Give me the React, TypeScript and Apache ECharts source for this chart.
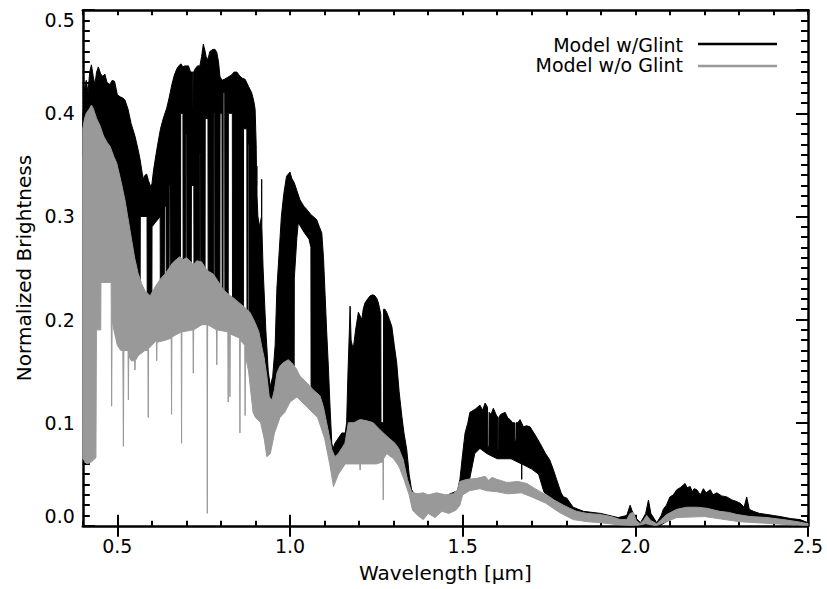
import React, { useEffect, useRef } from "react";
import * as echarts from "echarts";

// ---- Data ----
// "Model w/Glint": upper and lower edges of the dense spectrum trace
const glintUpper: [number, number][] = [
  [0.400,0.395],[0.405,0.425],[0.410,0.432],[0.415,0.420],[0.420,0.440],[0.425,0.447],[0.430,0.436],[0.435,0.428],
  [0.440,0.440],[0.445,0.445],[0.452,0.438],[0.458,0.436],[0.464,0.438],[0.470,0.430],[0.478,0.428],[0.485,0.432],
  [0.492,0.431],[0.500,0.418],[0.508,0.416],[0.515,0.415],[0.522,0.413],[0.531,0.404],[0.540,0.390],[0.551,0.378],
  [0.560,0.365],[0.566,0.355],[0.572,0.342],[0.576,0.336],[0.580,0.340],[0.585,0.341],[0.590,0.335],[0.595,0.330],
  [0.600,0.331],[0.605,0.345],[0.612,0.360],[0.618,0.372],[0.625,0.385],[0.633,0.395],[0.643,0.405],[0.650,0.415],
  [0.658,0.428],[0.665,0.437],[0.672,0.443],[0.678,0.446],[0.684,0.448],[0.690,0.445],[0.695,0.446],[0.700,0.446],
  [0.706,0.446],[0.712,0.440],[0.7185,0.440],[0.719,0.405],[0.7205,0.405],[0.721,0.440],[0.725,0.443],[0.732,0.446],
  [0.739,0.446],[0.744,0.455],[0.749,0.467],[0.753,0.462],[0.757,0.455],[0.762,0.452],[0.768,0.460],[0.777,0.462],
  [0.783,0.462],[0.788,0.459],[0.793,0.450],[0.797,0.436],[0.803,0.432],[0.810,0.433],[0.820,0.435],[0.830,0.437],
  [0.838,0.440],[0.846,0.440],[0.855,0.436],[0.862,0.434],[0.870,0.433],[0.880,0.426],[0.889,0.420],[0.895,0.412],
  [0.899,0.404],[0.902,0.370],[0.9035,0.330],[0.904,0.349],[0.9045,0.320],[0.907,0.300],[0.912,0.290],[0.9175,0.300],
  [0.918,0.336],[0.9185,0.290],[0.922,0.250],[0.930,0.190],[0.937,0.150],[0.943,0.135],[0.950,0.145],[0.957,0.175],
  [0.962,0.230],[0.968,0.262],[0.975,0.300],[0.982,0.322],[0.990,0.339],[1.000,0.343],[1.005,0.337],[1.012,0.333],
  [1.020,0.325],[1.029,0.316],[1.040,0.310],[1.048,0.307],[1.060,0.302],[1.077,0.297],[1.085,0.290],[1.092,0.284],
  [1.097,0.260],[1.101,0.229],[1.106,0.190],[1.111,0.155],[1.116,0.115],[1.121,0.080],[1.125,0.075],[1.130,0.080],
  [1.140,0.085],[1.150,0.090],[1.160,0.090],[1.164,0.100],[1.168,0.150],[1.172,0.190],[1.174,0.213],[1.177,0.180],
  [1.183,0.171],[1.190,0.190],[1.198,0.207],[1.208,0.200],[1.212,0.210],[1.217,0.216],[1.225,0.220],[1.232,0.223],
  [1.240,0.224],[1.246,0.223],[1.252,0.220],[1.256,0.216],[1.263,0.205],[1.2635,0.100],[1.2705,0.100],[1.271,0.210],
  [1.275,0.210],[1.280,0.207],[1.288,0.200],[1.295,0.193],[1.302,0.175],[1.309,0.158],[1.316,0.130],[1.324,0.106],
  [1.330,0.090],[1.338,0.074],[1.345,0.050],[1.352,0.035],[1.360,0.031],[1.400,0.029],[1.450,0.029],[1.485,0.034],
  [1.492,0.045],[1.500,0.070],[1.507,0.090],[1.515,0.100],[1.521,0.110],[1.536,0.113],[1.550,0.117],[1.558,0.112],
  [1.565,0.119],[1.572,0.115],[1.5725,0.077],[1.576,0.077],[1.5765,0.110],[1.582,0.108],[1.589,0.114],[1.599,0.106],
  [1.601,0.106],[1.6015,0.075],[1.604,0.075],[1.6045,0.105],[1.610,0.108],[1.623,0.110],[1.630,0.105],[1.637,0.103],
  [1.645,0.100],[1.650,0.100],[1.6505,0.083],[1.654,0.083],[1.6545,0.100],[1.660,0.100],[1.666,0.103],[1.676,0.096],
  [1.685,0.097],[1.695,0.096],[1.710,0.088],[1.724,0.080],[1.740,0.070],[1.752,0.064],[1.762,0.055],[1.772,0.045],
  [1.785,0.032],[1.792,0.028],[1.801,0.027],[1.820,0.018],[1.850,0.014],[1.900,0.012],[1.950,0.008],[1.975,0.010],
  [1.985,0.020],[1.990,0.015],[2.000,0.008],[2.015,0.003],[2.030,0.012],[2.038,0.025],[2.045,0.012],[2.062,0.003],
  [2.075,0.010],[2.081,0.016],[2.090,0.020],[2.100,0.028],[2.110,0.030],[2.120,0.035],[2.130,0.037],[2.144,0.041],
  [2.150,0.037],[2.159,0.038],[2.165,0.033],[2.170,0.036],[2.178,0.035],[2.188,0.030],[2.197,0.036],[2.205,0.032],
  [2.217,0.035],[2.225,0.030],[2.236,0.032],[2.250,0.029],[2.265,0.028],[2.280,0.025],[2.290,0.024],[2.303,0.022],
  [2.315,0.018],[2.3225,0.028],[2.330,0.016],[2.342,0.014],[2.360,0.012],[2.381,0.011],[2.400,0.010],[2.419,0.009],
  [2.450,0.007],[2.477,0.006],[2.500,0.003],
];

const glintLower: [number, number][] = [
  [0.400,0.360],[0.430,0.380],[0.450,0.360],[0.500,0.330],[0.530,0.280],[0.550,0.245],[0.566,0.230],[0.5665,0.300],
  [0.586,0.300],[0.5865,0.220],[0.595,0.210],[0.600,0.215],[0.6005,0.290],[0.624,0.300],[0.6245,0.225],[0.636,0.230],
  [0.6365,0.310],[0.641,0.310],[0.6415,0.235],[0.650,0.238],[0.6505,0.330],[0.654,0.330],[0.6545,0.240],[0.683,0.245],
  [0.6835,0.400],[0.690,0.400],[0.6905,0.245],[0.698,0.245],[0.6985,0.380],[0.701,0.380],[0.7015,0.243],[0.714,0.240],
  [0.7145,0.330],[0.7215,0.330],[0.722,0.240],[0.738,0.238],[0.7385,0.360],[0.741,0.360],[0.7415,0.237],[0.754,0.235],
  [0.7545,0.395],[0.7625,0.395],[0.763,0.230],[0.779,0.226],[0.7795,0.400],[0.782,0.400],[0.7825,0.225],[0.797,0.220],
  [0.7975,0.400],[0.803,0.400],[0.8035,0.220],[0.806,0.215],[0.8065,0.420],[0.811,0.420],[0.8115,0.215],[0.821,0.210],
  [0.8215,0.400],[0.833,0.400],[0.8335,0.210],[0.865,0.200],[0.8655,0.385],[0.875,0.385],[0.8755,0.195],[0.878,0.194],
  [0.8785,0.370],[0.881,0.370],[0.8815,0.192],[0.900,0.180],[0.920,0.160],[0.935,0.120],[0.940,0.110],[0.955,0.120],
  [0.970,0.140],[1.000,0.140],[1.012,0.140],[1.0125,0.240],[1.020,0.280],[1.024,0.294],[1.040,0.285],[1.055,0.278],
  [1.0605,0.270],[1.061,0.130],[1.090,0.110],[1.100,0.090],[1.120,0.060],[1.160,0.070],[1.170,0.090],[1.260,0.085],
  [1.300,0.070],[1.330,0.055],[1.350,0.030],[1.400,0.025],[1.490,0.030],[1.500,0.040],[1.520,0.045],[1.535,0.070],
  [1.550,0.075],[1.570,0.070],[1.600,0.065],[1.640,0.065],[1.6705,0.060],[1.671,0.045],[1.6715,0.060],[1.700,0.055],
  [1.720,0.050],[1.735,0.033],[1.750,0.028],[1.780,0.016],[1.800,0.013],[1.900,0.008],[1.950,0.004],[2.000,0.000],
  [2.070,0.000],[2.090,0.004],[2.120,0.010],[2.150,0.012],[2.250,0.008],[2.350,0.005],[2.500,0.000],
];

// "Model w/o Glint": upper and lower edges, with the narrow absorption lines
const noGlintUpper: [number, number][] = [
  [0.400,0.385],[0.405,0.395],[0.410,0.400],[0.420,0.405],[0.425,0.408],[0.430,0.405],[0.440,0.395],[0.450,0.388],
  [0.460,0.378],[0.470,0.372],[0.479,0.368],[0.490,0.358],[0.498,0.352],[0.510,0.335],[0.522,0.316],[0.530,0.300],
  [0.540,0.280],[0.550,0.260],[0.560,0.245],[0.570,0.235],[0.580,0.228],[0.595,0.223],[0.610,0.232],[0.624,0.239],
  [0.640,0.245],[0.650,0.250],[0.660,0.255],[0.670,0.258],[0.681,0.261],[0.690,0.258],[0.700,0.260],[0.710,0.257],
  [0.720,0.253],[0.730,0.257],[0.744,0.256],[0.755,0.250],[0.763,0.247],[0.778,0.244],[0.790,0.238],[0.807,0.229],
  [0.820,0.225],[0.836,0.221],[0.850,0.217],[0.865,0.213],[0.884,0.207],[0.899,0.197],[0.910,0.188],[0.918,0.174],
  [0.925,0.163],[0.933,0.145],[0.940,0.125],[0.948,0.122],[0.955,0.132],[0.962,0.148],[0.971,0.155],[0.980,0.158],
  [0.995,0.161],[1.005,0.158],[1.019,0.152],[1.029,0.145],[1.045,0.140],[1.067,0.132],[1.087,0.126],[1.097,0.115],
  [1.106,0.100],[1.115,0.085],[1.121,0.074],[1.130,0.067],[1.140,0.070],[1.159,0.080],[1.169,0.100],[1.185,0.100],
  [1.203,0.103],[1.220,0.102],[1.241,0.100],[1.261,0.093],[1.280,0.087],[1.304,0.080],[1.315,0.075],[1.328,0.064],
  [1.340,0.045],[1.352,0.033],[1.367,0.031],[1.386,0.032],[1.400,0.030],[1.425,0.032],[1.450,0.030],[1.473,0.031],
  [1.485,0.035],[1.492,0.043],[1.512,0.045],[1.541,0.046],[1.565,0.048],[1.575,0.044],[1.585,0.047],[1.599,0.045],
  [1.610,0.044],[1.628,0.042],[1.660,0.043],[1.686,0.041],[1.705,0.037],[1.725,0.033],[1.743,0.030],[1.765,0.025],
  [1.792,0.020],[1.810,0.017],[1.830,0.014],[1.860,0.012],[1.898,0.011],[1.930,0.009],[1.956,0.006],[1.975,0.006],
  [1.985,0.012],[1.994,0.013],[2.003,0.005],[2.014,0.002],[2.025,0.006],[2.033,0.010],[2.045,0.005],[2.062,0.002],
  [2.075,0.006],[2.091,0.011],[2.120,0.016],[2.149,0.018],[2.180,0.018],[2.207,0.017],[2.245,0.014],[2.270,0.013],
  [2.294,0.011],[2.332,0.009],[2.381,0.008],[2.429,0.006],[2.470,0.004],[2.500,0.002],
];

const noGlintLower: [number, number][] = [
  [0.400,0.065],[0.412,0.060],[0.425,0.062],[0.438,0.066],[0.4395,0.190],[0.452,0.190],[0.4525,0.236],[0.482,0.236],
  [0.4835,0.116],[0.485,0.200],[0.490,0.190],[0.500,0.175],[0.510,0.170],[0.516,0.170],[0.5175,0.077],[0.519,0.170],
  [0.525,0.170],[0.531,0.170],[0.532,0.122],[0.533,0.165],[0.540,0.160],[0.550,0.160],[0.551,0.151],[0.552,0.160],
  [0.560,0.165],[0.580,0.170],[0.5885,0.170],[0.5895,0.105],[0.5905,0.172],[0.600,0.175],[0.613,0.180],[0.614,0.160],
  [0.615,0.178],[0.640,0.180],[0.656,0.182],[0.657,0.108],[0.658,0.183],[0.685,0.188],[0.686,0.080],[0.687,0.188],
  [0.719,0.190],[0.720,0.148],[0.721,0.190],[0.745,0.195],[0.7595,0.195],[0.7605,0.012],[0.7615,0.195],[0.787,0.190],
  [0.788,0.156],[0.789,0.190],[0.820,0.188],[0.821,0.120],[0.822,0.188],[0.825,0.188],[0.826,0.125],[0.827,0.186],
  [0.854,0.182],[0.855,0.090],[0.856,0.180],[0.869,0.175],[0.870,0.107],[0.871,0.165],[0.880,0.150],[0.893,0.110],
  [0.900,0.105],[0.915,0.100],[0.925,0.085],[0.933,0.067],[0.943,0.070],[0.955,0.090],[0.971,0.105],[0.985,0.110],
  [1.000,0.120],[1.020,0.125],[1.050,0.115],[1.080,0.105],[1.100,0.085],[1.115,0.060],[1.126,0.038],[1.140,0.050],
  [1.160,0.060],[1.180,0.060],[1.202,0.060],[1.203,0.054],[1.204,0.060],[1.250,0.060],[1.269,0.062],[1.270,0.025],
  [1.271,0.065],[1.280,0.070],[1.300,0.065],[1.315,0.058],[1.330,0.045],[1.345,0.030],[1.355,0.015],[1.370,0.010],
  [1.386,0.006],[1.400,0.012],[1.420,0.008],[1.440,0.014],[1.460,0.012],[1.480,0.015],[1.492,0.020],[1.500,0.030],
  [1.520,0.034],[1.550,0.036],[1.570,0.034],[1.600,0.033],[1.630,0.031],[1.670,0.032],[1.700,0.028],[1.740,0.022],
  [1.780,0.013],[1.820,0.006],[1.860,0.004],[1.900,0.003],[1.950,0.001],[2.000,0.000],[2.030,0.002],[2.060,0.000],
  [2.090,0.004],[2.120,0.008],[2.200,0.009],[2.300,0.004],[2.400,0.002],[2.500,0.000],
];

const xLabelValues = [0.5, 1.0, 1.5, 2.0, 2.5];
const seriesNames = ["Model w/Glint", "Model w/o Glint"];
const seriesColors = ["#000000", "#999999"];
const xAxisTitle = "Wavelength [\u03bcm]";
const yAxisTitle = "Normalized Brightness";

const FONT = '"DejaVu Sans", "Liberation Sans", sans-serif';

function bandRenderer(upper: [number, number][], lower: [number, number][], color: string) {
  return (params: any, api: any) => {
    if (params.dataIndex !== 0) return null;
    const pts: number[][] = [];
    for (const p of upper) pts.push(api.coord(p));
    for (let i = lower.length - 1; i >= 0; i--) pts.push(api.coord(lower[i]));
    return {
      type: "polygon",
      shape: { points: pts },
      style: { fill: color, stroke: color, lineWidth: 1, lineJoin: "round" },
    };
  };
}

export default function App() {
  const ref = useRef<HTMLDivElement>(null);
  useEffect(() => {
    document.body.style.margin = "0";
    const chart = echarts.init(ref.current!, undefined, { renderer: "svg" });
    const frame = { show: true, onZero: false, lineStyle: { color: "#000", width: 2.5 } };
    const tickStyle = { color: "#000", width: 2 };
    const minorX = {
      type: "value", min: 0.4, max: 2.5, interval: 0.1,
      axisLine: frame,
      axisTick: { show: true, inside: true, length: 5, lineStyle: tickStyle },
      splitLine: { show: false },
    };
    const majorX = {
      type: "value", min: 0.4, max: 2.5,
      axisLine: { show: false },
      axisTick: { show: true, inside: true, length: 11, customValues: xLabelValues, lineStyle: tickStyle },
      axisLabel: { show: false },
      splitLine: { show: false },
    };
    const yBase = {
      type: "value", min: 0, max: 0.5, interval: 0.1,
      axisLine: frame,
      axisTick: { show: true, inside: true, length: 12, lineStyle: tickStyle },
      minorTick: { show: true, splitNumber: 10, length: 7, lineStyle: tickStyle },
      splitLine: { show: false },
      minorSplitLine: { show: false },
    };
    const legendText = (text: string, y: number) => ({
      type: "text", x: 683, y,
      style: { text, align: "right", verticalAlign: "middle", fontSize: 19, lineHeight: 18, fontFamily: FONT, fill: "#000" },
    });
    const option: any = {
      animation: false,
      backgroundColor: "#fff",
      grid: { left: 82.8, right: 19, top: 10.2, bottom: 63.2, containLabel: false, outerBoundsMode: "none" },
      xAxis: [
        {
          ...minorX, position: "bottom",
          axisLabel: {
            show: true, customValues: xLabelValues, formatter: (v: number) => v.toFixed(1),
            margin: 11, color: "#000", fontSize: 19, fontFamily: FONT,
          },
          name: xAxisTitle, nameLocation: "middle", nameGap: 37,
          nameTextStyle: { color: "#000", fontSize: 20, fontFamily: FONT },
        },
        { ...minorX, position: "top", axisLabel: { show: false } },
        { ...majorX, position: "bottom" },
        { ...majorX, position: "top" },
      ],
      yAxis: [
        {
          ...yBase, position: "left",
          axisLabel: {
            show: true, formatter: (v: number) => v.toFixed(1), margin: 8,
            color: "#000", fontSize: 19, fontFamily: FONT,
            verticalAlignMinLabel: "bottom", verticalAlignMaxLabel: "top",
          },
          name: yAxisTitle, nameLocation: "middle", nameGap: 48,
          nameTextStyle: { color: "#000", fontSize: 20, fontFamily: FONT },
        },
        { ...yBase, position: "right", axisLabel: { show: false } },
      ],
      series: [
        {
          type: "custom", name: seriesNames[0], coordinateSystem: "cartesian2d",
          xAxisIndex: 0, yAxisIndex: 0, clip: true, silent: true,
          data: [glintUpper[0]],
          renderItem: bandRenderer(glintUpper, glintLower, seriesColors[0]),
        },
        {
          type: "custom", name: seriesNames[1], coordinateSystem: "cartesian2d",
          xAxisIndex: 0, yAxisIndex: 0, clip: true, silent: true,
          data: [noGlintUpper[0]],
          renderItem: bandRenderer(noGlintUpper, noGlintLower, seriesColors[1]),
        },
      ],
      graphic: [
        legendText(seriesNames[0], 45),
        { type: "line", shape: { x1: 698, y1: 44, x2: 777, y2: 44 }, style: { stroke: seriesColors[0], lineWidth: 2.5 } },
        legendText(seriesNames[1], 65),
        { type: "line", shape: { x1: 698, y1: 66, x2: 777, y2: 66 }, style: { stroke: seriesColors[1], lineWidth: 2.5 } },
      ],
    };
    chart.setOption(option);
    return () => chart.dispose();
  }, []);
  return <div ref={ref} style={{ width: 827, height: 589 }} />;
}
